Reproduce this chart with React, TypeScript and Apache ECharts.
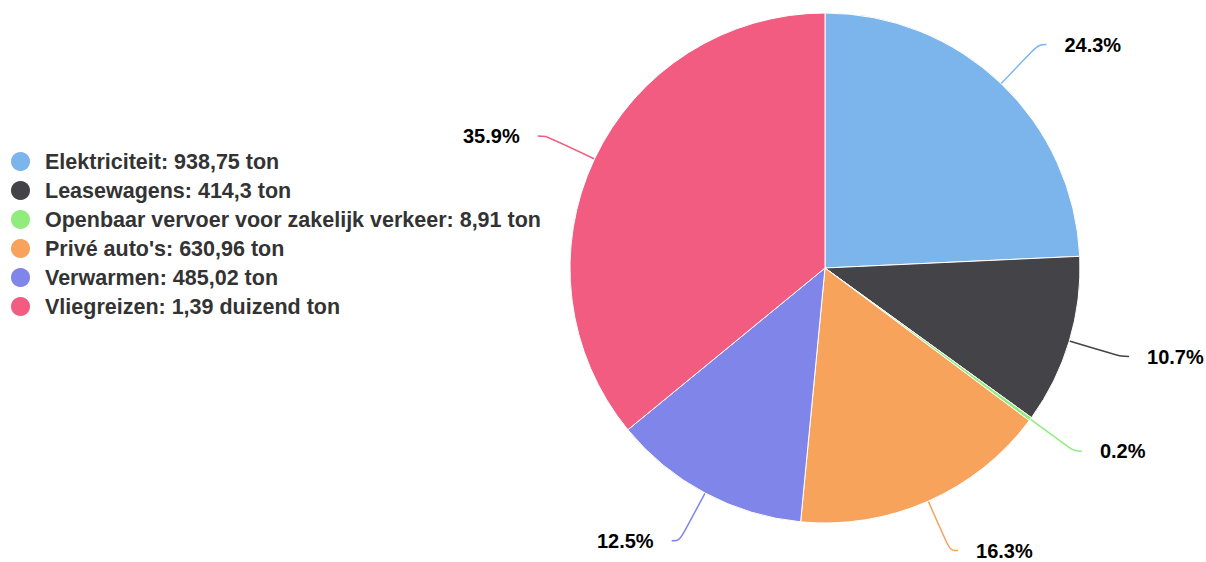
import React, { useEffect, useRef } from "react";
import * as echarts from "echarts";

const categories = [
  "Elektriciteit",
  "Leasewagens",
  "Openbaar vervoer voor zakelijk verkeer",
  "Privé auto's",
  "Verwarmen",
  "Vliegreizen",
];
const values = [938.75, 414.3, 8.91, 630.96, 485.02, 1390];
const valueLabels = [
  "938,75 ton",
  "414,3 ton",
  "8,91 ton",
  "630,96 ton",
  "485,02 ton",
  "1,39 duizend ton",
];
const colors = ["#7cb5ec", "#434348", "#90ed7d", "#f7a35c", "#8085e9", "#f15c80"];

export default function App() {
  const ref = useRef<HTMLDivElement>(null);
  useEffect(() => {
    document.body.style.margin = "0";
    const chart = echarts.init(ref.current!, null, { renderer: "svg" });
    const total = values.reduce((a, b) => a + b, 0);
    chart.setOption({
      animation: false,
      color: colors,
      legend: {
        orient: "vertical",
        left: 4,
        top: 145,
        icon: "circle",
        itemWidth: 21,
        itemHeight: 21,
        itemGap: 6,
        textStyle: {
          fontFamily: "Liberation Sans, Arial, sans-serif",
          fontSize: 21.5,
          fontWeight: "bold",
          color: "#333333",
          padding: [0, 0, 0, 9],
        },
        formatter: (name: string) => {
          const i = categories.indexOf(name);
          return name + ": " + valueLabels[i];
        },
        data: categories,
      },
      series: [
        {
          type: "pie",
          center: [825, 268],
          radius: [0, 255],
          startAngle: 90,
          clockwise: true,
          avoidLabelOverlap: false,
          itemStyle: { borderColor: "#ffffff", borderWidth: 1 },
          label: {
            show: true,
            position: "outside",
            fontFamily: "Liberation Sans, Arial, sans-serif",
            fontSize: 20,
            lineHeight: 16,
            fontWeight: "bold",
            color: "#000000",
            distanceToLabelLine: 18,
            formatter: (p: any) => ((p.value / total) * 100).toFixed(1) + "%",
          },
          labelLine: {
            show: true,
            length: 54,
            length2: 8,
            smooth: 0.4,
            lineStyle: { width: 1.5 },
          },
          emphasis: { disabled: true },
          data: categories.map((c, i) => ({ name: c, value: values[i] })),
        },
      ],
    });
    return () => chart.dispose();
  }, []);
  return <div ref={ref} style={{ width: 1206, height: 562 }} />;
}
